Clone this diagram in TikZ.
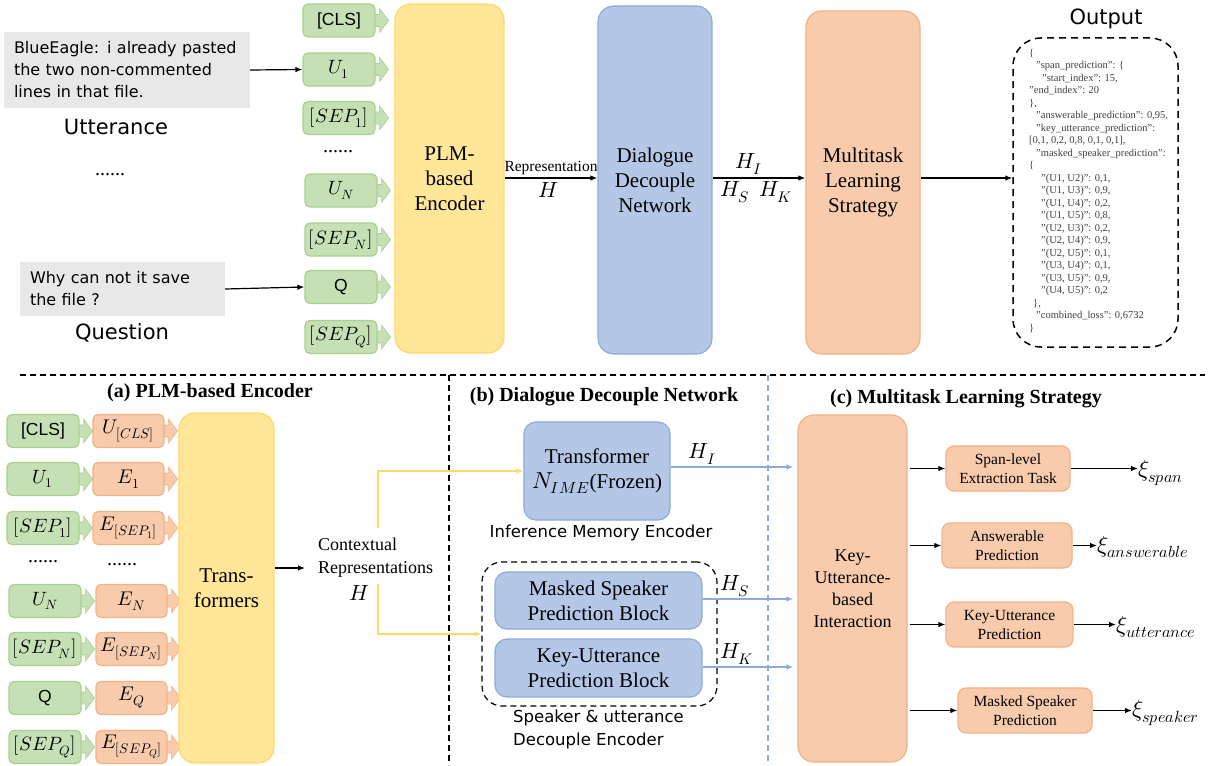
\documentclass[tikz,border=0pt]{standalone}
\usepackage{fontspec}
\usepackage{unicode-math}
\setmainfont{Liberation Serif}
\setmathfont{Latin Modern Math}[Scale=1.1]
\newfontfamily\tokfont{Liberation Sans}
\newfontfamily\comic{DejaVu Sans}
\usetikzlibrary{arrows.meta}
\definecolor{gfill}{HTML}{C5E0B4}
\definecolor{gbd}{HTML}{A9D18E}
\definecolor{yfill}{HTML}{FFE699}
\definecolor{ybd}{HTML}{FFD966}
\definecolor{bfill}{HTML}{B4C7E7}
\definecolor{bbd}{HTML}{8FAADC}
\definecolor{ofill}{HTML}{F8CBAD}
\definecolor{obd}{HTML}{F4B183}
\definecolor{grayfill}{HTML}{E8E8E8}
\definecolor{jsontxt}{HTML}{404040}
\newcommand{\fs}[2]{\fontsize{#1}{#2}\selectfont}
\newcommand{\dq}{\char"22\relax}
\newcommand{\blk}[3]{\filldraw[fill=#2,draw=#3,line width=0.6pt] (#1.east) ++(0,-6) -- ++(4,0) -- ++(0,-6) -- ++(9,12) -- ++(-9,12) -- ++(0,-6) -- ++(-4,0) -- cycle;}
\tikzset{
  tok/.style={draw=gbd, fill=gfill, rounded corners=5pt, line width=1.2pt, minimum width=72pt, minimum height=33pt, inner sep=0pt, font=\tokfont\fs{17.5}{20}},
  emb/.style={draw=obd, fill=ofill, rounded corners=5pt, line width=1.2pt, minimum width=71pt, minimum height=33pt, inner sep=0pt, font=\fs{18}{20}},
  bigbox/.style={rounded corners=16pt, line width=1.2pt, align=center, inner sep=0pt, font=\fs{21}{25}},
  blubox/.style={draw=bbd, fill=bfill, rounded corners=12pt, line width=1.2pt, align=center, inner sep=0pt, font=\fs{21}{25}},
  task/.style={draw=obd, fill=ofill, rounded corners=8pt, line width=1.2pt, align=center, inner sep=0pt, minimum height=45pt, font=\fs{15.5}{19}},
  graybox/.style={fill=grayfill, inner sep=0pt, align=left, font=\comic\fs{16}{22}},
  comiclbl/.style={font=\comic\fs{21}{25}},
  small/.style={font=\comic\fs{16.5}{23}},
  arr/.style={-{Latex[length=7pt,width=5.5pt]}, line width=1.2pt, black},
  barr/.style={-{Latex[length=7pt,width=5.5pt]}, line width=1.2pt, bbd},
  yarr/.style={-{Latex[length=7pt,width=5.5pt]}, line width=1.4pt, ybd},
  mlbl/.style={font=\fs{20}{24}, text=black},
  xilbl/.style={font=\fs{21}{24}, anchor=west, inner sep=0pt},
  dotlbl/.style={font=\fs{20}{20}},
  sep/.style={dashed, dash pattern=on 6pt off 4pt, line width=1.2pt},
}
\begin{document}
\begin{tikzpicture}[x=1pt,y=-1pt]
\useasboundingbox (0,0) rectangle (1214,765);

% ---------------- top section ----------------
\node[graybox, minimum width=246pt, minimum height=76pt, text width=226pt] (utt) at (127,70)
  {BlueEagle: i already pasted\\the two non-commented\\lines in that file.};
\node[comiclbl] (uttl) at (116,127) {Utterance};
\node[dotlbl] (dtop1) at (110,175) {......};
\node[graybox, minimum width=205pt, minimum height=54pt, text width=185pt] (qb) at (122.5,289)
  {Why can not it save\\the file ?};
\node[comiclbl] (ql) at (122,333) {Question};

\node[tok] (cls) at (339,20.5) {[CLS]};
\node[tok] (u1) at (339,69.5) {$U_1$};
\node[tok] (sep1) at (339,118) {$[SEP_1]$};
\node[dotlbl] (dtop2) at (338,152) {......};
\node[tok] (un) at (341,190.5) {$U_N$};
\node[tok] (sepn) at (341,239.5) {$[SEP_N]$};
\node[tok] (q) at (341,287) {Q};
\node[tok] (sepq) at (341,337) {$[SEP_Q]$};
\foreach \n in {cls,u1,sep1,un,sepn,q,sepq} {\blk{\n}{gfill}{gbd}}

\draw[arr] (utt.east) -- (u1.west);
\draw[arr] (qb.east) -- (q.west);

\node[bigbox, draw=ybd, fill=yfill, minimum width=109pt, minimum height=349pt] (ple) at (449.5,178.5) {PLM-\\based\\Encoder};
\node[bigbox, draw=bbd, fill=bfill, minimum width=114pt, minimum height=348pt] (ddn) at (655,180) {Dialogue\\Decouple\\Network};
\node[bigbox, draw=obd, fill=ofill, minimum width=114pt, minimum height=343pt] (mls) at (863,182.5) {Multitask\\Learning\\Strategy};
\node[draw, sep, dash pattern=on 7pt off 5pt, line width=1.5pt, rounded corners=28pt, minimum width=165pt, minimum height=309pt] (out) at (1095.5,192.5) {};
\node[comiclbl] (outl) at (1106,19) {Output};

\draw[arr] (ple.east |- 0,178) -- (ddn.west |- 0,178)
  node[pos=0.5, above, font=\fs{15.5}{18}, inner sep=3pt] (repl) {Representation}
  node[pos=0.47, below, mlbl, inner sep=4pt] (hl) {$H$};
\draw[arr] (ddn.east |- 0,178) -- (mls.west |- 0,178)
  node[pos=0.39, above, mlbl, inner sep=3pt] (hil) {$H_I$}
  node[pos=0.47, below, mlbl, inner sep=3pt] (hskl) {$H_S\;\,H_K$};
\draw[arr] (mls.east |- 0,178) -- (out.west |- 0,178);

\node[anchor=north west, align=left, inner sep=0pt, text=jsontxt, font=\fs{10.5}{12.5}] (json) at (1029,49) {%
\{\\
\hspace*{7pt}\dq span\_prediction\dq: \{\\
\hspace*{13pt}\dq start\_index\dq: 15,\\
\dq end\_index\dq: 20\\
\},\\
\hspace*{7pt}\dq answerable\_prediction\dq: 0,95,\\
\hspace*{7pt}\dq key\_utterance\_prediction\dq:\\
{[}0,1, 0,2, 0,8, 0,1, 0,1],\\
\hspace*{7pt}\dq masked\_speaker\_prediction\dq:\\
\{\\
\hspace*{12pt}\dq(U1, U2)\dq: 0,1,\\
\hspace*{12pt}\dq(U1, U3)\dq: 0,9,\\
\hspace*{12pt}\dq(U1, U4)\dq: 0,2,\\
\hspace*{12pt}\dq(U1, U5)\dq: 0,8,\\
\hspace*{12pt}\dq(U2, U3)\dq: 0,2,\\
\hspace*{12pt}\dq(U2, U4)\dq: 0,9,\\
\hspace*{12pt}\dq(U2, U5)\dq: 0,1,\\
\hspace*{12pt}\dq(U3, U4)\dq: 0,1,\\
\hspace*{12pt}\dq(U3, U5)\dq: 0,9,\\
\hspace*{12pt}\dq(U4, U5)\dq: 0,2\\
\hspace*{4pt}\},\\
\hspace*{7pt}\dq combined\_loss\dq: 0,6732\\
\}};

% ---------------- separators ----------------
\draw[sep] (20,375) -- (1205,375);
\draw[sep] (449,375) -- (449,765);
\draw[sep, bbd] (768,375) -- (768,765);

% ---------------- (a) ----------------
\node[font=\bfseries\fs{20}{24}] (ta) at (210,393) {(a) PLM-based Encoder};
\node[tok] (bcls) at (43,431) {[CLS]};
\node[tok] (bu1) at (43,479) {$U_1$};
\node[tok] (bsep1) at (43,528) {$[SEP_1]$};
\node[dotlbl] (dbot1) at (43,562) {......};
\node[tok] (bun) at (45,601) {$U_N$};
\node[tok] (bsepn) at (45,649) {$[SEP_N]$};
\node[tok] (bq) at (45,698) {Q};
\node[tok] (bsepq) at (45,747) {$[SEP_Q]$};
\foreach \n in {bcls,bu1,bsep1,bun,bsepn,bq,bsepq} {\blk{\n}{gfill}{gbd}}

\node[emb] (ecls) at (128.5,431) {$U_{[CLS]}$};
\node[emb] (e1) at (128.5,479) {$E_1$};
\node[emb] (esep1) at (128.5,528) {$E_{[SEP_1]}$};
\node[dotlbl] (dbot2) at (122,565) {......};
\node[emb] (en) at (131.5,601) {$E_N$};
\node[emb] (esepn) at (131.5,649) {$E_{[SEP_N]}$};
\node[emb] (eq) at (131.5,698) {$E_Q$};
\node[emb] (esepq) at (131.5,747) {$E_{[SEP_Q]}$};
\foreach \n in {ecls,e1,esep1,en,esepn,eq,esepq} {\blk{\n}{ofill}{obd}}

\node[bigbox, draw=ybd, fill=yfill, minimum width=95pt, minimum height=350pt] (tf) at (226.5,588) {Trans-\\formers};
\node[align=left, anchor=west, font=\fs{18}{23.5}, inner sep=0pt] (ctx) at (318,557.5) {Contextual\\Representations};
\node[mlbl, inner sep=0pt] (ctxh) at (359,593) {$H$};
\draw[arr] (tf.east |- 0,568) -- (305,568);

% ---------------- (b) ----------------
\node[font=\bfseries\fs{20}{24}] (tb) at (604,397) {(b) Dialogue Decouple Network};
\node[blubox, minimum width=146pt, minimum height=98pt] (tr) at (597,471) {Transformer\\$N_{IME}$(Frozen)};
\node[small] (imel) at (601,533) {Inference Memory Encoder};
\node[draw, sep, rounded corners=20pt, minimum width=235pt, minimum height=144pt] (sde) at (599.5,634) {};
\node[blubox, minimum width=207pt, minimum height=57pt] (msp) at (598.5,600.5) {Masked Speaker\\Prediction Block};
\node[blubox, minimum width=207pt, minimum height=58pt] (kup) at (598.5,668) {Key-Utterance\\Prediction Block};
\node[small, align=left, anchor=west, inner sep=0pt] (sdel) at (513,729.5) {Speaker \& utterance\\Decouple Encoder};

\coordinate (ya) at (378,528);
\coordinate (yb) at (378,584);
\draw[yarr] (ya) |- (tr.west);
\draw[yarr] (yb) |- (sde.west);

% ---------------- (c) ----------------
\node[font=\bfseries\fs{20}{24}] (tc) at (966,399) {(c) Multitask Learning Strategy};
\node[bigbox, draw=obd, fill=ofill, minimum width=109pt, minimum height=347pt, font=\fs{18}{22}] (kui) at (852.5,588.5) {Key-\\Utterance-\\based\\Interaction};

\draw[barr, shorten >=4pt] (tr.east |- 0,467) -- (kui.west |- 0,467) node[pos=0.25, above, mlbl, inner sep=2pt] (hi2) {$H_I$};
\draw[barr, shorten >=4pt] (msp.east |- 0,599) -- (kui.west |- 0,599) node[pos=0.34, above, mlbl, inner sep=2pt] (hs2) {$H_S$};
\draw[barr, shorten >=4pt] (kup.east |- 0,667) -- (kui.west |- 0,667) node[pos=0.36, above, mlbl, inner sep=2pt] (hk2) {$H_K$};

\node[task, minimum width=124pt] (t1) at (1008,468.5) {Span-level\\Extraction Task};
\node[task, minimum width=130pt] (t2) at (1007,545.5) {Answerable\\Prediction};
\node[task, minimum width=127pt] (t3) at (1009.5,624.5) {Key-Utterance\\Prediction};
\node[task, minimum width=134pt] (t4) at (1025,710.5) {Masked Speaker\\Prediction};

\foreach \t in {t1,t2,t3,t4} {\draw[arr] (kui.east |- \t.west) ++(2,0) -- (\t.west);}

\node[xilbl] (l1) at (1138,473) {$\xi_{span}$};
\node[xilbl] (l2) at (1097,547) {$\xi_{answerable}$};
\node[xilbl] (l3) at (1116,627) {$\xi_{utterance}$};
\node[xilbl] (l4) at (1132,713) {$\xi_{speaker}$};
\draw[arr] (t1.east) -- (t1.east -| l1.west);
\draw[arr] (t2.east) -- (t2.east -| l2.west);
\draw[arr] (t3.east) -- (t3.east -| l3.west);
\draw[arr] (t4.east) -- (t4.east -| l4.west);
\end{tikzpicture}
\end{document}
